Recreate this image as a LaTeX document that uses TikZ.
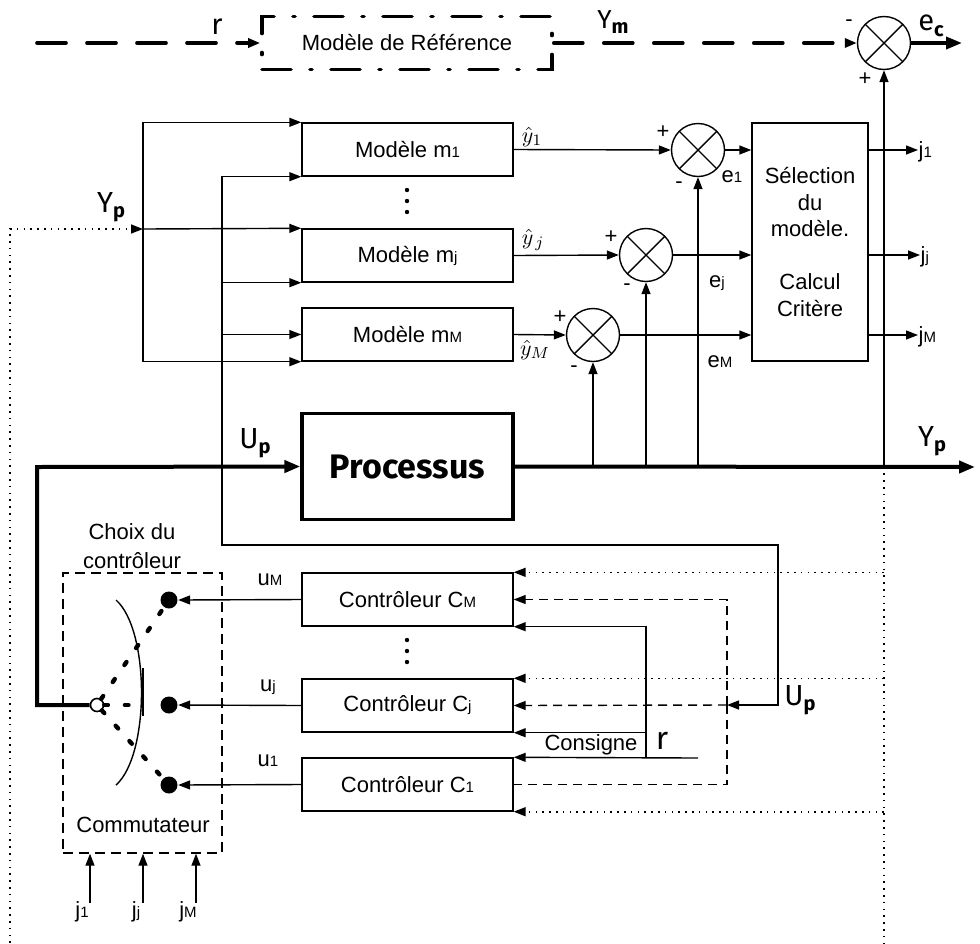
\documentclass[tikz,border=0pt]{standalone}
\usepackage{fontspec}
\setmainfont{Liberation Sans}
\newfontfamily\comicfont{Fira Sans}
\usetikzlibrary{arrows.meta}

% small index on the baseline, as in "m1" or "CM"
\newcommand{\idx}[1]{{\fontsize{7.5pt}{8pt}\selectfont #1}}
% signal names: letter with a lowered bold index
\newcommand{\sgn}[2]{#1\raisebox{-0.35ex}{\fontsize{10pt}{10pt}\selectfont\bfseries #2}}

\begin{document}
\begin{tikzpicture}[
  x=0.5pt, y=-0.5pt,
  line width=0.7pt,
  >={Triangle[length=6pt,width=4.5pt]},
  font=\fontsize{11pt}{13.25pt}\selectfont,
  blk/.style={draw, minimum width=105.5pt, minimum height=26.5pt, inner sep=0pt},
  sumnode/.style={draw, circle, minimum size=26.5pt, inner sep=0pt,
    path picture={\draw (path picture bounding box.north west) -- (path picture bounding box.south east)
      (path picture bounding box.north east) -- (path picture bounding box.south west);}},
  lab/.style={inner sep=0pt},
  comic/.style={inner sep=0pt, font=\comicfont\fontsize{14.5pt}{14.5pt}\selectfont},
  bus/.style={line width=2pt, >={Triangle[length=8pt,width=6pt]}},
  bigdash/.style={line width=1.8pt, line cap=round, dash pattern=on 14.5pt off 10.5pt},
  meas/.style={line width=0.8pt, dash pattern=on 0.8pt off 2.6pt},
  feed/.style={dash pattern=on 4.5pt off 3pt},
  swdash/.style={line width=2.2pt, line cap=round, dash pattern=on 1.8pt off 8.5pt},
  tap/.style={circle, fill, minimum size=8.5pt, inner sep=0pt}
]
\useasboundingbox (0,0) rectangle (980,943);

% reference model
\node[draw, line width=1.8pt, line cap=round, dash pattern=on 14.5pt off 9.5pt on 1pt off 9.5pt,
  minimum width=145pt, minimum height=26.5pt] (ref) at (407,43) {Modèle de Référence};
\node[sumnode] (sumc) at (884,43) {};
\coordinate (rin) at (37,43);
\coordinate (ecout) at (962,43);
\draw[bigdash,->] (rin) -- (ref.west);
\draw[bigdash,->] (ref.east) -- (sumc.west);
\draw[line width=1.8pt, ->, >={Triangle[length=8pt,width=6pt]}] (sumc.east) -- (ecout);
\node[comic] (rtop) at (217,27) {r};
\node[comic, font=\comicfont\fontsize{13pt}{13pt}\selectfont] (ym) at (613,22) {\sgn{Y}{m}};
\node[comic] (ec) at (931,26) {\sgn{e}{c}};
\node[lab] (ecm) at (849,23) {-};
\node[lab] (ecp) at (865,79) {+};

% model bank
\node[blk] (m1) at (407.5,149.5) {Modèle m\idx{1}};
\node[blk] (mj) at (407.5,255.5) {Modèle m\idx{j}};
\node[blk] (mM) at (407.5,334.5) {Modèle m\idx{M}};
\foreach \y in {190,201,212} \fill (407,\y) circle (1.1pt);

\node[sumnode] (s1) at (698,150) {};
\node[sumnode] (sj) at (646,255) {};
\node[sumnode] (sM) at (593,335) {};
\node[draw, minimum width=58pt, minimum height=119pt, align=center, inner sep=0pt] (sel) at (810,242)
  {Sélection\\du\\modèle.\\ \\Calcul\\Critère};

% process
\node[draw, line width=1.6pt, minimum width=105.5pt, minimum height=53pt,
  font=\comicfont\bfseries\fontsize{17pt}{17pt}\selectfont] (proc) at (407.5,466.5) {Processus};

% controllers and switch
\node[blk] (cM) at (407.5,599.5) {Contrôleur C\idx{M}};
\node[blk] (cj) at (407.5,705.5) {Contrôleur C\idx{j}};
\node[blk] (c1) at (407.5,784.5) {Contrôleur C\idx{1}};
\foreach \y in {640,651,662} \fill (407,\y) circle (1.1pt);

\node[draw, dash pattern=on 5pt off 3pt, minimum width=79.5pt, minimum height=140pt] (comm) at (142.5,713) {};
\node[lab, align=center, font=\fontsize{11pt}{14.5pt}\selectfont] (choix) at (132,546) {Choix du\\contrôleur};
\node[lab] (commtxt) at (143,825) {Commutateur};
\node[tap] (dotM) at (169,600) {};
\node[tap] (dotj) at (169,705) {};
\node[tap] (dot1) at (169,785) {};
\node[circle, draw, fill=white, minimum size=6.5pt, inner sep=0pt, line width=0.8pt] (hub) at (97,705) {};
\coordinate (armj) at (135,705);
\draw[swdash] (hub) -- (dotM);
\draw[swdash] (hub) -- (armj);
\draw[swdash] (hub) -- (dot1);
\draw (116,600) .. controls (150,630) and (150,755) .. (116,785);
\draw[line width=0.9pt] (143,668) -- (143,716);

% measured output Yp into the models
\coordinate (yin) at (143,229);
\coordinate (lb) at (10,943);
\draw[meas,->] (lb) |- (yin);
\node[comic] (ypl) at (111,207) {\sgn{Y}{p}};
\draw[->] (yin) |- (m1.north west);
\draw[->] (yin) -- (mj.north west);
\draw[->] (yin) |- (mM.south west);

% control input Up
\coordinate (ubend) at (37,467);
\coordinate (utap) at (222,467);
\coordinate (upr) at (778,545);
\coordinate (upin) at (727,705);
\draw[bus,->] (hub.west) -| (ubend) -- (proc.west);
\node[comic] (upl) at (255,443) {\sgn{U}{p}};
\draw[->] (utap) |- (m1.south west);
\draw[->] (utap) |- (mj.south west);
\draw[->] (utap) |- (mM.west);
\draw[->] (utap) |- (upr) |- (upin);
\node[comic] (upl2) at (800,700) {\sgn{U}{p}};

% process output
\coordinate (yout) at (975,467);
\draw[bus,->] (proc.east) -- (yout);
\node[comic] (ypr) at (932,441) {\sgn{Y}{p}};

% model errors
\draw[->] (m1.east) -- (s1.west);
\draw[->] (mj.east) -- (sj.west);
\draw[->] (mM.east) -- (sM.west);
\draw[->] (s1.south |- proc.east) -- (s1.south);
\draw[->] (sj.south |- proc.east) -- (sj.south);
\draw[->] (sM.south |- proc.east) -- (sM.south);
\draw[->] (s1.east) -- (s1.east -| sel.west);
\draw[->] (sj.east) -- (sj.east -| sel.west);
\draw[->] (sM.east) -- (sM.east -| sel.west);
\node[lab] (yh1) at (532,137) {$\hat{y}_1$};
\node[lab] (yhj) at (533,240) {$\hat{y}_{\,j}$};
\node[lab] (yhM) at (535,350) {$\hat{y}_M$};
\node[lab] (p1) at (663,132) {+};
\node[lab] (n1) at (679,185) {-};
\node[lab] (pj) at (611,237) {+};
\node[lab] (nj) at (627,287) {-};
\node[lab] (pM) at (560,317) {+};
\node[lab] (nM) at (574,369) {-};
\node[lab] (e1) at (732,177) {e\idx{1}};
\node[lab] (ej) at (717,283) {e\idx{j}};
\node[lab] (eM) at (720,362) {e\idx{M}};

% criteria
\node[lab, anchor=west] (oj1) at (918,152) {j\idx{1}};
\node[lab, anchor=west] (ojj) at (920,257) {j\idx{j}};
\node[lab, anchor=west] (ojM) at (918,337) {j\idx{M}};
\draw[->] (sel.east |- s1) -- (oj1.west |- s1);
\draw[->] (sel.east |- sj) -- (ojj.west |- sj);
\draw[->] (sel.east |- sM) -- (ojM.west |- sM);

% tracking error and measurement back to the controllers
\coordinate (rb) at (884,943);
\draw[->] (sumc.south |- proc.east) -- (sumc.south);
\draw[meas] (sumc.south |- proc.east) -- (rb);
\draw[meas,->] (sumc.south |- cM.north east) -- (cM.north east);
\draw[meas,->] (sumc.south |- cj.north east) -- (cj.north east);
\draw[meas,->] (sumc.south |- c1.south east) -- (c1.south east);

% Up to the controllers
\draw[feed,->] (upin) |- (cM.east);
\draw[feed,->] (upin) -- (cj.east);
\draw[feed] (upin) |- (c1.east);

% set point
\coordinate (rset) at (698,758);
\coordinate (rbr) at (646,758);
\draw[->] (rset) -- (c1.north east);
\draw[->] (rbr) |- (cM.south east);
\draw[->] (rbr |- cj.south east) -- (cj.south east);
\node[lab] (cons) at (591,745) {Consigne};
\node[comic, font=\comicfont\fontsize{16pt}{16pt}\selectfont] (rlab) at (662,741) {r};

% controller outputs
\draw[->] (cM.west) -- (dotM.east);
\draw[->] (cj.west) -- (dotj.east);
\draw[->] (c1.west) -- (dot1.east);
\node[lab] (uM) at (270,580) {u\idx{M}};
\node[lab] (uj) at (268,687) {u\idx{j}};
\node[lab] (u1) at (268,761) {u\idx{1}};

% criteria into the switch
\coordinate (b1) at (90,903);
\coordinate (bj) at (143,903);
\coordinate (bM) at (196,903);
\draw[->] (b1) -- (b1 |- comm.south);
\draw[->] (bj) -- (bj |- comm.south);
\draw[->] (bM) -- (bM |- comm.south);
\node[lab] (lj1) at (82,912) {j\idx{1}};
\node[lab] (ljj) at (136,912) {j\idx{j}};
\node[lab] (ljM) at (188,912) {j\idx{M}};
\end{tikzpicture}
\end{document}
